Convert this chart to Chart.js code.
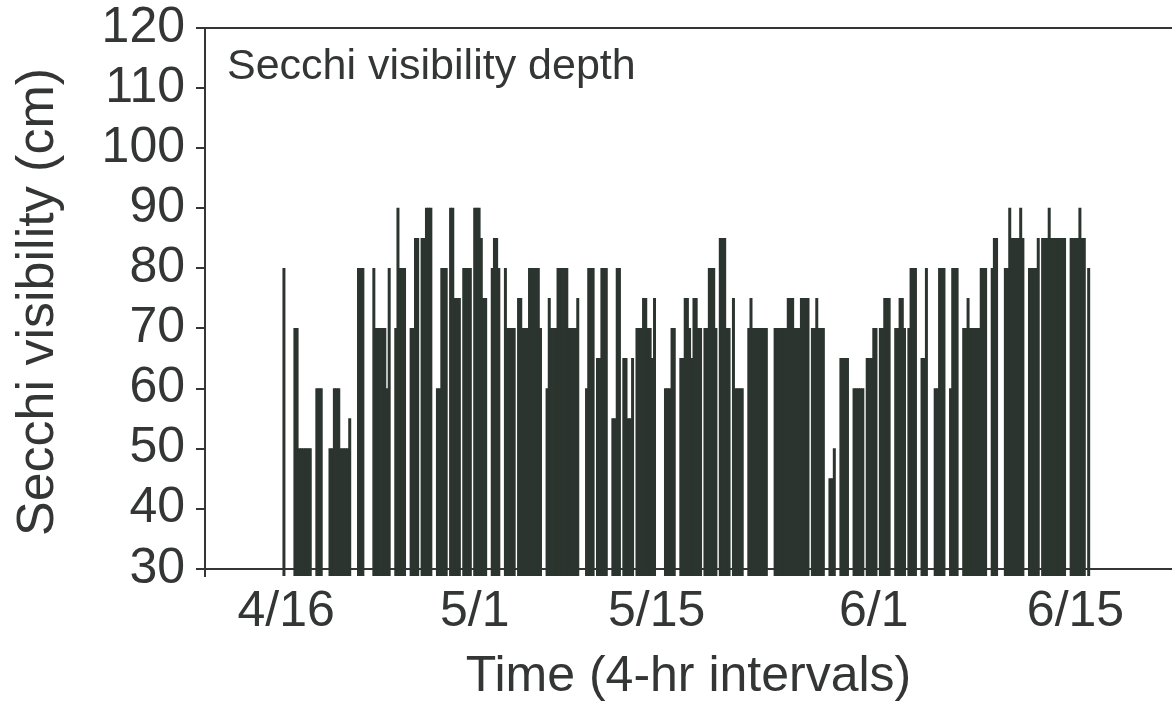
<!DOCTYPE html>
<html>
<head>
<meta charset="utf-8">
<script src="https://cdn.jsdelivr.net/npm/chart.js@4.4.1/dist/chart.umd.min.js"></script>
<style>
  html, body { margin: 0; padding: 0; background: #fff; }
  #wrap { width: 1172px; height: 706px; position: relative; }
</style>
</head>
<body>
<div id="wrap"><canvas id="secchi"></canvas></div>
<script>
// Secchi depth (cm), one slot per 4-hr interval from 4/16 on; null = no reading
const secchi = [
  80, null, null, null, null, 70, 70, 50, 50, 50,
  50, 50, 50, null, null, 60, 60, 60, null, null,
  null, 50, 50, 60, 60, 60, 50, 50, 50, 50,
  55, null, null, null, 80, 80, 80, null, null, null,
  null, 80, 70, 70, 70, 70, 70, 60, 80, null,
  null, 70, 90, 80, 80, 80, null, null, 70, 70,
  85, 85, null, 85, 85, 90, 90, 90, null, null,
  60, 60, 80, 80, 80, null, 90, 90, 75, 75,
  75, null, 80, 80, 80, 80, null, 90, 90, 90,
  85, 75, 75, null, null, 80, 85, 85, 80, null,
  null, 80, 70, 70, 70, 70, null, 75, 75, 70,
  70, 70, 80, 80, 80, 80, 80, 70, null, null,
  60, 75, 70, 70, 70, 80, 80, 80, 80, 80,
  70, 70, 70, 70, 75, null, null, null, 60, 80,
  80, 80, null, 65, 65, 80, 80, 80, null, null,
  55, 55, 80, 80, null, 65, 65, 55, 55, 65,
  null, 70, 70, 70, 75, 75, 70, 70, 65, 75,
  null, null, null, null, 60, 60, 60, 70, 70, null,
  null, 65, 65, 75, 75, 70, 65, 75, 75, 70,
  70, null, 70, 70, 80, 80, 80, 70, null, 85,
  85, 85, 70, 70, null, 75, 60, 60, 60, 60,
  null, null, 70, 75, 70, 70, 70, 70, 70, 70,
  70, null, null, null, 70, 70, 70, 70, 70, 70,
  75, 75, 75, 70, 70, 70, 75, 75, 75, 75,
  null, 70, 70, 75, 70, 70, 70, null, null, 45,
  45, 50, null, null, 65, 65, 65, 65, null, null,
  60, 60, 60, 60, 60, null, 65, 65, 65, 70,
  70, null, 70, 70, 75, 75, 75, null, null, 70,
  70, 75, 75, 70, null, 70, 80, 80, 80, null,
  null, 65, 65, 80, null, null, null, 60, 60, 80,
  80, 80, null, null, 60, 80, 80, 80, null, null,
  70, 70, 75, 70, 70, 70, 70, 70, 80, 80,
  80, null, null, 80, 85, 85, null, null, null, 80,
  80, 90, 85, 85, 85, 85, 90, 85, null, null,
  80, 80, 80, 80, 85, null, 85, 85, 85, 90,
  85, 85, 85, 85, 85, 85, 85, null, null, 85,
  85, 85, 85, 90, 85, 85, null, 80
];
const slots = secchi.map((_, i) => i);

const yTicks = [30, 40, 50, 60, 70, 80, 90, 100, 110, 120];
const dateTicks = [1, 87, 170, 269, 361];
const dateLabels = ['4/16', '5/1', '5/15', '6/1', '6/15'];

const ink = '#333634';
const barInk = '#2b342e';
const family = '"Liberation Sans", Arial, Helvetica, sans-serif';

// caption written inside the plot frame, top left
const innerTitle = {
  id: 'innerTitle',
  afterDraw(chart) {
    const { ctx, chartArea } = chart;
    ctx.save();
    ctx.font = '43px ' + family;
    ctx.fillStyle = ink;
    ctx.textBaseline = 'alphabetic';
    ctx.fillText('Secchi visibility depth', chartArea.left + 22, chartArea.top + 51);
    ctx.restore();
  }
};

new Chart(document.getElementById('secchi'), {
  type: 'bar',
  data: {
    labels: slots,
    datasets: [{
      data: secchi,
      backgroundColor: barInk,
      borderWidth: 0,
      barPercentage: 1,
      categoryPercentage: 1,
      inflateAmount: 0.4
    }]
  },
  options: {
    responsive: true,
    maintainAspectRatio: false,
    animation: false,
    devicePixelRatio: 1,
    layout: { padding: { top: 28, left: 0, right: 0, bottom: 0 } },
    plugins: { legend: { display: false }, tooltip: { enabled: false } },
    scales: {
      x: {
        type: 'linear',
        min: -36,
        max: 405,
        offset: false,
        afterBuildTicks: s => { s.ticks = dateTicks.map(v => ({ value: v })); },
        afterFit: s => { s.height = 130; },
        border: { display: false },
        grid: { display: false, drawTicks: false, offset: false },
        ticks: {
          autoSkip: false,
          maxRotation: 0,
          color: ink,
          padding: 11,
          font: { family, size: 50, lineHeight: 1 },
          callback: (v, i) => dateLabels[i]
        },
        title: {
          display: true,
          text: 'Time (4-hr intervals)',
          color: ink,
          font: { family, size: 50, lineHeight: 1 },
          padding: { top: 0, bottom: 4 }
        }
      },
      y: {
        min: 28.8,
        max: 120,
        afterBuildTicks: s => { s.ticks = yTicks.map(v => ({ value: v })); },
        afterFit: s => {
          s.width = 205;
          // let the big 120 label hang above the frame instead of pushing it down
          s.paddingTop = 0;
          s.paddingBottom = 0;
        },
        border: { display: true, color: ink, width: 2 },
        grid: {
          drawOnChartArea: true,
          color: c => (c.tick && (c.tick.value === 30 || c.tick.value === 120)) ? ink : 'rgba(0,0,0,0)',
          lineWidth: 2,
          tickColor: ink,
          tickLength: 9,
          tickWidth: 2
        },
        ticks: {
          color: ink,
          padding: 11,
          font: { family, size: 50, lineHeight: 1 }
        },
        title: {
          display: true,
          text: 'Secchi visibility (cm)',
          color: ink,
          font: { family, size: 52, lineHeight: 1 },
          padding: { top: 13, bottom: 0 }
        }
      }
    }
  },
  plugins: [innerTitle]
});
</script>
</body>
</html>
